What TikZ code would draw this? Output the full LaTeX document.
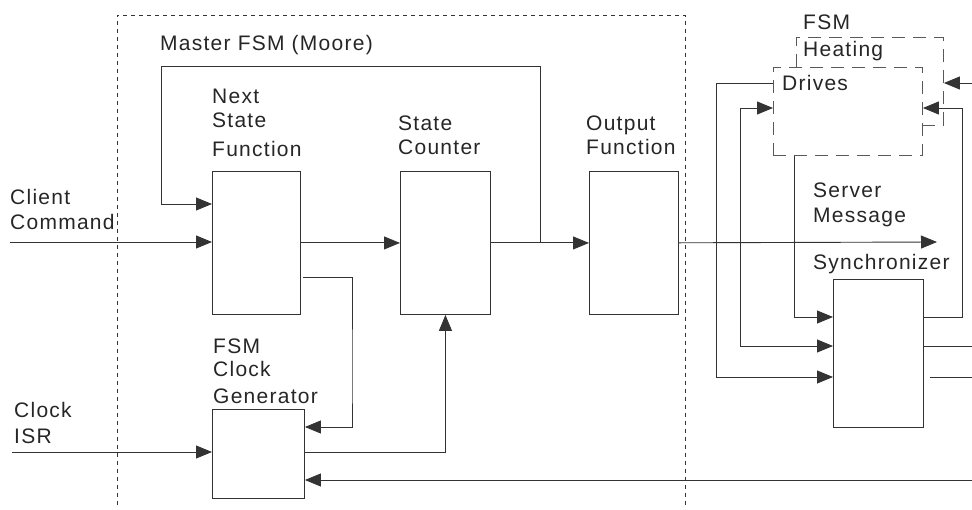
\documentclass[tikz,border=0pt]{standalone}
\usepackage{fontspec}
\setmainfont{Liberation Sans}[LetterSpace=6]
\usetikzlibrary{arrows.meta,positioning,calc}

\begin{document}
\begin{tikzpicture}[x=1pt,y=-1pt,
  line/.style={draw=black!80, line width=0.9pt},
  arr/.style={line, -{Triangle[length=16pt,width=13pt]}},
  blk/.style={draw=black!80, line width=0.9pt, anchor=north west, inner sep=0pt},
  heatbox/.style={blk, draw=black!65, dash pattern=on 13pt off 8pt},
  lbl/.style={anchor=base west, inner sep=0pt, align=left, text=black!85, font=\fontsize{21}{24}\selectfont}]
\useasboundingbox (0,0) rectangle (972,510);
% Master FSM frame
\draw[black!80, line width=0.7pt, dash pattern=on 4pt off 4pt] (117,505) -- (117,15) -- (685,15) -- (685,505);
\node[lbl] (mst) at (160,51) {Master FSM (Moore)};
% blocks
\node[blk, minimum width=88pt, minimum height=143pt] (nsf) at (212,171) {};
\node[blk, minimum width=90pt, minimum height=143pt] (sc) at (400,171) {};
\node[blk, minimum width=89pt, minimum height=143pt] (of) at (589,171) {};
\node[blk, minimum width=92pt, minimum height=89pt] (cg) at (212,409) {};
\node[blk, minimum width=90pt, minimum height=148pt] (sync) at (833,279) {};
\node[heatbox, minimum width=147pt, minimum height=88pt] (heat) at (796,37) {};
\node[heatbox, fill=white, minimum width=149pt, minimum height=88pt] (drv) at (773,67) {};
% labels (base = last line)
\node[lbl] (nsfl) at (212,157) {Next\\State\\[5pt]Function};
\node[lbl] (scl) at (398,155) {State\\Counter};
\node[lbl] (ofl) at (586,155) {Output\\Function};
\node[lbl] (cgl) at (213,404) {FSM\\Clock\\[3pt]Generator};
\node[lbl] (ccl) at (10,230) {Client\\[1pt]Command};
\node[lbl] (isrl) at (14,443) {Clock\\[2pt]ISR};
\node[lbl] (sml) at (813,223) {Server\\[1pt]Message};
\node[lbl] (syl) at (813,270) {Synchronizer};
\node[lbl] (heatl) at (803,57) {FSM\\[3pt]Heating};
\node[lbl] (drvl) at (782,91) {Drives};
% free ends
\coordinate (cin) at (10,242);
\coordinate (isr) at (12,452);
\coordinate (tap) at (540,242);
\coordinate (fb) at (161,66);
\coordinate (msg) at (937,242);
\coordinate (clkret) at (972,480);
\coordinate (htin) at (972,83);
% master FSM signals
\draw[arr] (cin) -- (cin -| nsf.west);
\draw[arr] (nsf) -- (sc);
\draw[arr] (sc) -- (of);
\draw[arr] (tap) |- (fb) |- ($(nsf.north west)+(0,33)$);
\draw[arr] ($(nsf.north east)+(2,106)$) -| (352,380) |- ($(cg.north east)+(0,18)$);
\draw[arr] ($(cg.north east)+(0,43)$) -| (sc.south);
\draw[arr] (isr) -- (isr -| cg.west);
\draw[arr] (clkret) -- (clkret -| cg.east);
% server side
\draw[arr] (of) -- (msg);
\draw[arr] (htin) -- (htin -| heat.east);
\draw[arr] ($(sync.north east)+(0,38)$) -- (962,317) |- ($(drv.north east)+(0,41)$);
\draw[arr] ($(drv.south west)+(21,0)$) |- ($(sync.north west)+(0,38)$);
\draw[arr] ($(drv.north west)+(0,16)$) -- (716,83) |- ($(sync.north west)+(0,98)$);
\draw[line, {Triangle[length=16pt,width=13pt]}-{Triangle[length=16pt,width=13pt]}] ($(drv.north west)+(0,41)$) -- (740,108) |- ($(sync.north west)+(0,67)$);
\draw[line] ($(sync.north east)+(0,67)$) -- (972,346);
\draw[line] ($(sync.north east)+(6,98)$) -- (972,377);
\end{tikzpicture}
\end{document}
